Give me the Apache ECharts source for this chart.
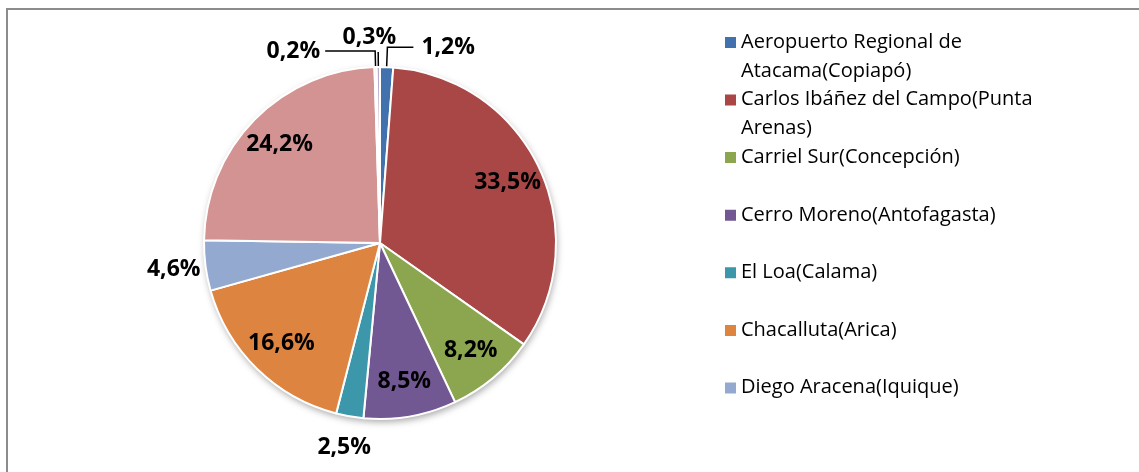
<!DOCTYPE html>
<html>
<head>
<meta charset="utf-8">
<script src="https://cdn.jsdelivr.net/npm/echarts@6/dist/echarts.min.js"></script>
<style>
  html, body { margin: 0; padding: 0; background: #fff; overflow: hidden; }
  #frame { position: absolute; left: 6px; top: 8px; width: 1131px; height: 462px;
           border-top: 2px solid #8c8c8c; border-left: 2px solid #8c8c8c; }
  #chart { position: absolute; left: 0; top: 0; width: 1139px; height: 472px; }
</style>
</head>
<body>
<div id="frame"></div>
<div id="chart"></div>
<script>
// aeropuertos (los 3 ultimos no salen en la leyenda original)
const airports = [
  'Aeropuerto Regional de Atacama(Copiapó)',
  'Carlos Ibáñez del Campo(Punta Arenas)',
  'Carriel Sur(Concepción)',
  'Cerro Moreno(Antofagasta)',
  'El Loa(Calama)',
  'Chacalluta(Arica)',
  'Diego Aracena(Iquique)',
  'Otro 8',
  'Otro 9',
  'Otro 10',
];
const shares = [1.2, 33.5, 8.2, 8.5, 2.5, 16.6, 4.6, 24.2, 0.2, 0.3];
const legendLines = [
  'Aeropuerto Regional de\nAtacama(Copiapó)',
  'Carlos Ibáñez del Campo(Punta\nArenas)',
  'Carriel Sur(Concepción)',
  'Cerro Moreno(Antofagasta)',
  'El Loa(Calama)',
  'Chacalluta(Arica)',
  'Diego Aracena(Iquique)',
];
const colors = ['#4272ae', '#a84745', '#8ba64e', '#725893', '#3d97ab',
  '#dd8440', '#93a9cf', '#d39392', '#c9d9a6', '#b9abcc'];

const FONT = '"Open Sans", sans-serif';
const center = [380, 243];
const R = 176;

const pct = (v) => v.toFixed(1).replace('.', ',') + '%';
const labelFont = {
  fontFamily: FONT,
  fontSize: 23,
  fontWeight: 'bold',
  color: '#000',
};

// lineas guia para las porciones chicas (lift: rotulo sobre la linea)
const leaderOpts = {
  0: {length: 20, length2: 26, dist: 8, lift: false},
  8: {length: 16, length2: 50, dist: 5, lift: false},
  9: {length: 15, length2: 0, dist: -18, lift: true},
};

let chart = echarts.init(document.getElementById('chart'));

const pieData = airports.map((name, i) => {
  let item = {name: name, value: shares[i], itemStyle: {color: colors[i]}};
  const lo = leaderOpts[i];
  if (lo) {
    item.label = {
      show: true,
      position: 'outside',
      distanceToLabelLine: lo.dist,
      lineHeight: 30,
    };
    item.labelLine = {show: true, length: lo.length, length2: lo.length2};
  }
  return item;
});

// series transparentes solo para ubicar los rotulos
const ringData = (test) => airports.map((name, i) => ({
  name: name,
  value: shares[i],
  label: {show: test(shares[i])},
}));

chart.setOption({
  animation: false,
  legend: {
    orient: 'vertical',
    left: 725,
    top: 27.6,
    padding: 0,
    itemGap: 0,
    itemWidth: 11,
    itemHeight: 57.6,
    icon: 'path://M0,0L0.01,0M0,9.3h11v11h-11zM0,57.6L0.01,57.6',
    selectedMode: false,
    data: airports.slice(0, 7),
    formatter: (name) => {
      const t = legendLines[airports.indexOf(name)];
      return t.indexOf('\n') >= 0 ? t : t + '\n';
    },
    itemStyle: {borderWidth: 0},
    textStyle: {
      fontFamily: FONT,
      fontSize: 20,
      lineHeight: 28.8,
      color: '#000',
    },
  },
  series: [
    {
      type: 'pie',
      center: center,
      radius: R,
      startAngle: 90,
      clockwise: true,
      avoidLabelOverlap: false,
      itemStyle: {borderColor: '#fff', borderWidth: 2},
      label: {
        show: false,
        formatter: (p) => {
          const lo = leaderOpts[p.dataIndex];
          return pct(p.value) + (lo && lo.lift ? '\n' : '');
        },
        ...labelFont,
      },
      labelLine: {show: false, lineStyle: {color: '#000', width: 1.5}},
      data: pieData,
    },
    {
      // sombra debajo de la torta
      type: 'pie',
      z: 1,
      center: center,
      radius: R,
      startAngle: 90,
      silent: true,
      itemStyle: {
        color: '#fff',
        borderWidth: 0,
        shadowColor: 'rgba(0,0,0,0.35)',
        shadowBlur: 7,
        shadowOffsetX: 1,
        shadowOffsetY: 3,
      },
      label: {show: false},
      labelLine: {show: false},
      data: shares.map((v, i) => ({name: airports[i], value: v})),
    },
    {
      // rotulos interiores
      type: 'pie',
      z: 3,
      center: center,
      radius: [100, R],
      startAngle: 90,
      silent: true,
      avoidLabelOverlap: false,
      itemStyle: {color: 'rgba(0,0,0,0)', borderWidth: 0},
      label: {position: 'inside', formatter: (p) => pct(p.value), ...labelFont},
      labelLine: {show: false},
      data: ringData((v) => v >= 8),
    },
    {
      // rotulos exteriores sin linea
      type: 'pie',
      z: 3,
      center: center,
      radius: [192, 218],
      startAngle: 90,
      silent: true,
      avoidLabelOverlap: false,
      itemStyle: {color: 'rgba(0,0,0,0)', borderWidth: 0},
      label: {position: 'inside', formatter: (p) => pct(p.value), ...labelFont},
      labelLine: {show: false},
      data: ringData((v) => v >= 2 && v < 8),
    },
  ],
});
</script>
</body>
</html>
